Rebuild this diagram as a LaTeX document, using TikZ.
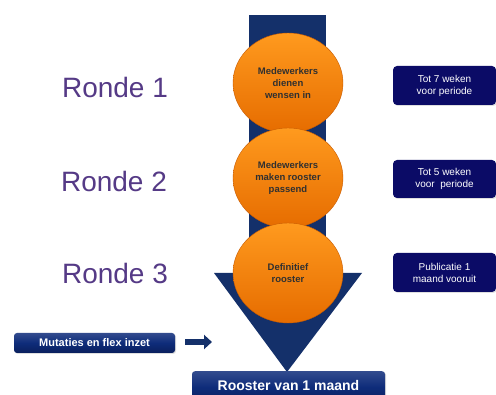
\documentclass[tikz,border=0pt]{standalone}
\usepackage{fontspec}
\setmainfont{Liberation Sans}
\usetikzlibrary{shapes.geometric,arrows.meta,shadows}
\definecolor{arrowblue}{HTML}{14306A}
\definecolor{boxnavy}{HTML}{0B0B66}
\definecolor{glossnavy}{HTML}{0E2C7A}
\definecolor{glossdark}{HTML}{0A1F5C}
\definecolor{orangetop}{HTML}{FF9A1E}
\definecolor{orangebot}{HTML}{E66C00}
\definecolor{orangeedge}{HTML}{C85A00}
\definecolor{rondepurple}{HTML}{553A86}
\definecolor{circletext}{HTML}{303030}
\tikzset{
  stage/.style={ellipse, minimum width=110pt, minimum height=100pt, inner sep=0pt,
    top color=orangetop, bottom color=orangebot, draw=orangeedge, line width=0.4pt,
    align=center, font=\fontsize{9.5}{12}\selectfont\bfseries, text=circletext},
  ronde/.style={font=\fontsize{28}{30}\selectfont, text=rondepurple},
  timing/.style={rounded corners=4pt, fill=boxnavy, text=white, align=center,
    font=\fontsize{10}{12}\selectfont, drop shadow={opacity=0.25, shadow xshift=1pt, shadow yshift=-1pt}},
  glossbox/.style={rounded corners=3pt, top color=glossnavy!85!white, bottom color=glossdark,
    middle color=glossnavy, text=white, font=\bfseries,
    drop shadow={opacity=0.25, shadow xshift=1pt, shadow yshift=-1pt}},
  flowarrow/.style={arrowblue, line width=6pt, -{Triangle[length=8pt, width=14pt]}}
}
\begin{document}
\begin{tikzpicture}[x=1pt, y=-1pt]
  \useasboundingbox (0,0) rectangle (496,395);
  \fill[white] (0,0) rectangle (496,395);

  % big downward arrow behind the stages
  \fill[arrowblue] (249,15) rectangle (326,274);
  \fill[arrowblue] (214,273) -- (362,273) -- (287,372) -- cycle;

  % the three stages
  \node[stage] (s1) at (288,83) {Medewerkers\\dienen\\wensen in};
  \node[stage] (s2) at (288,178) {Medewerkers\\maken rooster\\passend};
  \node[stage] (s3) at (288,273) {Definitief\\rooster};

  % round labels
  \node[ronde] (r1) at (115,87) {Ronde 1};
  \node[ronde] (r2) at (114,181) {Ronde 2};
  \node[ronde] (r3) at (115,273) {Ronde 3};

  % timing boxes
  \node[timing, minimum width=103pt, minimum height=39pt] (t1) at (444.5,85.5) {Tot 7 weken\\voor periode};
  \node[timing, minimum width=103pt, minimum height=38pt] (t2) at (444.5,179) {Tot 5 weken\\voor\ \ periode};
  \node[timing, minimum width=103pt, minimum height=39pt] (t3) at (444.5,272.5) {Publicatie 1\\maand vooruit};

  % changes feeding into the result
  \node[glossbox, minimum width=161pt, minimum height=20pt, font=\fontsize{11}{13}\selectfont\bfseries] (mut) at (94.5,343) {Mutaties en flex inzet};
  \coordinate (mutend) at (212,342);
  \draw[flowarrow] ([xshift=10pt]mut.east |- mutend) -- (mutend);

  % result box
  \node[glossbox, minimum width=193pt, minimum height=32pt, anchor=north, font=\fontsize{14}{16}\selectfont\bfseries, text depth=0pt] (res) at (288.5,371) {};
  \node[font=\fontsize{14}{16}\selectfont\bfseries, text=white] (restext) at (288.5,385) {Rooster van 1 maand};
\end{tikzpicture}
\end{document}
